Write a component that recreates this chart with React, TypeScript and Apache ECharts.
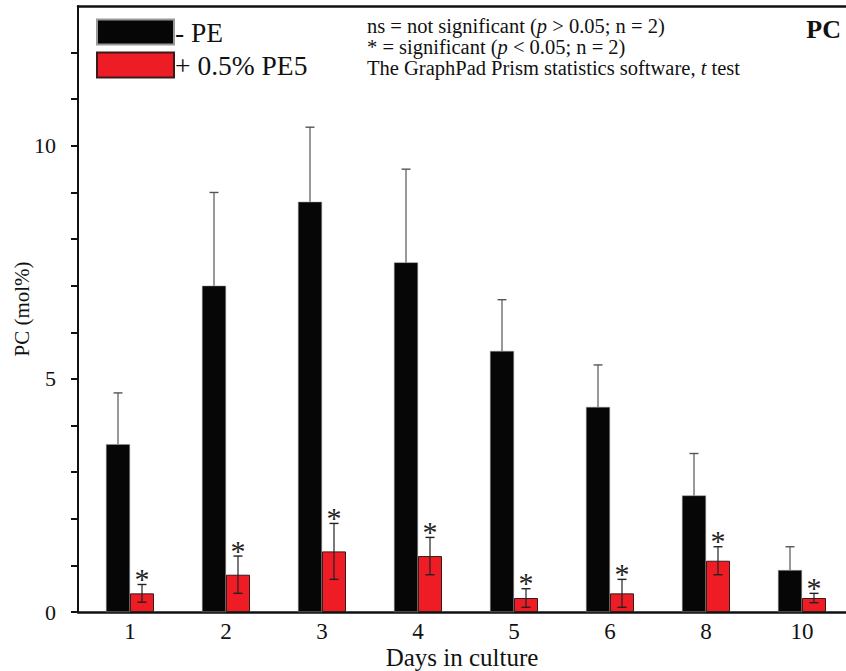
import React, { useEffect, useRef } from 'react';
import * as echarts from 'echarts';

const days = ['1', '2', '3', '4', '5', '6', '8', '10'];
const controlMean = [3.6, 7.0, 8.8, 7.5, 5.6, 4.4, 2.5, 0.9];
const controlErr = [1.1, 2.0, 1.6, 2.0, 1.1, 0.9, 0.9, 0.5];
const treatedMean = [0.4, 0.8, 1.3, 1.2, 0.3, 0.4, 1.1, 0.3];
const treatedErr = [0.19, 0.4, 0.6, 0.4, 0.2, 0.3, 0.3, 0.1];
const significant = [true, true, true, true, true, true, true, true];
const yLabelValues = [0, 5, 10];
const yTickValues = [0, 1, 2, 3, 4, 5, 6, 7, 8, 9, 10, 11, 12];
const seriesNames = ['- PE', '+ 0.5% PE5'];

const SERIF = 'Liberation Serif';
const BAR_W = 24;

export default function App() {
  const ref = useRef<HTMLDivElement>(null);

  useEffect(() => {
    const chart = echarts.init(ref.current!, null, { renderer: 'svg' });
    const idx = days.map((_, i) => i);

    const option: any = {
      animation: false,
      backgroundColor: '#ffffff',
      textStyle: { fontFamily: SERIF, color: '#111' },
      grid: { left: 78, right: 0, top: 6, bottom: 59, containLabel: false, outerBoundsMode: 'none' },
      legend: {
        data: seriesNames,
        orient: 'vertical',
        left: 96,
        top: 18,
        padding: 0,
        itemWidth: 77,
        itemHeight: 25,
        itemGap: 5,
        icon: 'rect',
        textStyle: { fontFamily: SERIF, fontSize: 27.5, color: '#111', padding: [0, 0, 0, -4] },
      },
      xAxis: [
        {
          type: 'value',
          min: -52 / 96,
          max: 7 + 44 / 96,
          position: 'bottom',
          splitLine: { show: false },
          axisTick: { show: false },
          axisLine: { show: true, lineStyle: { color: '#111', width: 2.5 } },
          axisLabel: {
            customValues: idx,
            formatter: (v: number) => days[Math.round(v)] ?? '',
            fontFamily: SERIF,
            fontSize: 23,
            lineHeight: 22,
            color: '#111',
            margin: 8,
          },
          name: 'Days in culture',
          nameLocation: 'middle',
          nameGap: 33,
          nameMoveOverlap: false,
          nameTextStyle: { fontFamily: SERIF, fontSize: 25, lineHeight: 24, color: '#111' },
        },
        {
          type: 'value',
          min: 0,
          max: 1,
          position: 'top',
          splitLine: { show: false },
          axisTick: { show: false },
          axisLabel: { show: false },
          axisLine: { show: true, onZero: false, lineStyle: { color: '#111', width: 2.5 } },
        },
      ],
      yAxis: {
        type: 'value',
        min: 0,
        max: 13,
        splitLine: { show: false },
        axisLine: { show: true, onZero: false, lineStyle: { color: '#111', width: 2 } },
        axisTick: {
          show: true,
          customValues: yTickValues,
          length: 7,
          inside: false,
          lineStyle: { color: '#111', width: 2 },
        },
        axisLabel: {
          customValues: yLabelValues,
          fontFamily: SERIF,
          fontSize: 22,
          color: '#111',
          margin: 22,
        },
        name: 'PC (mol%)',
        nameLocation: 'middle',
        nameGap: 46,
        nameMoveOverlap: false,
        nameTextStyle: { fontFamily: SERIF, fontSize: 21, color: '#111' },
      },
      series: [
        {
          name: seriesNames[0],
          type: 'bar',
          xAxisIndex: 0,
          barWidth: BAR_W,
          barGap: '0%',
          itemStyle: { color: '#060606', borderColor: '#999', borderWidth: 0.5 },
          data: idx.map((i) => [i, controlMean[i]]),
        },
        {
          name: seriesNames[1],
          type: 'bar',
          xAxisIndex: 0,
          barWidth: BAR_W,
          barGap: '0%',
          itemStyle: { color: '#ee1c25', borderColor: '#3a1a1a', borderWidth: 1 },
          data: idx.map((i) => [i, treatedMean[i]]),
        },
        {
          type: 'custom',
          xAxisIndex: 0,
          z: 5,
          silent: true,
          data: idx.map((i) => [i, controlMean[i], controlErr[i]]),
          renderItem: (params: any, api: any) => {
            const x = api.value(0);
            const m = api.value(1);
            const e = api.value(2);
            const base = api.coord([x, m]);
            const top = api.coord([x, m + e]);
            const cx = base[0] - BAR_W / 2;
            return {
              type: 'group',
              children: [
                { type: 'line', shape: { x1: cx, y1: base[1], x2: cx, y2: top[1] }, style: { stroke: '#555', lineWidth: 1.2 } },
                { type: 'line', shape: { x1: cx - 4.5, y1: top[1], x2: cx + 4.5, y2: top[1] }, style: { stroke: '#555', lineWidth: 1.4 } },
              ],
            };
          },
        },
        {
          type: 'custom',
          xAxisIndex: 0,
          z: 5,
          silent: true,
          data: idx.map((i) => [i, treatedMean[i], treatedErr[i], significant[i] ? 1 : 0]),
          renderItem: (params: any, api: any) => {
            const x = api.value(0);
            const m = api.value(1);
            const e = api.value(2);
            const sig = api.value(3);
            const top = api.coord([x, m + e]);
            const bot = api.coord([x, Math.max(0, m - e)]);
            const cx = top[0] + BAR_W / 2;
            const children: any[] = [
              { type: 'line', shape: { x1: cx, y1: bot[1], x2: cx, y2: top[1] }, style: { stroke: '#222', lineWidth: 1.2 } },
              { type: 'line', shape: { x1: cx - 4.5, y1: top[1], x2: cx + 4.5, y2: top[1] }, style: { stroke: '#222', lineWidth: 1.4 } },
              { type: 'line', shape: { x1: cx - 4.5, y1: bot[1], x2: cx + 4.5, y2: bot[1] }, style: { stroke: '#222', lineWidth: 1.4 } },
            ];
            if (sig) {
              children.push({
                type: 'text',
                x: cx,
                y: top[1] - 6,
                style: {
                  text: '*',
                  fill: '#222',
                  fontFamily: SERIF,
                  fontSize: 30,
                  align: 'center',
                  verticalAlign: 'middle',
                },
              });
            }
            return { type: 'group', children };
          },
        },
      ],
      graphic: [
        {
          type: 'text',
          left: 367,
          top: 15,
          style: {
            text: 'ns = not significant ({i|p} > 0.05; n = 2)\n* = significant ({i|p} < 0.05; n = 2)\nThe GraphPad Prism statistics software, {i|t} test',
            fontFamily: SERIF,
            fontSize: 20.5,
            lineHeight: 21,
            fill: '#111',
            rich: {
              i: { fontFamily: SERIF, fontSize: 20.5, fontStyle: 'italic', lineHeight: 21, fill: '#111' },
            },
          },
        },
        {
          type: 'text',
          right: 5,
          top: 16,
          style: {
            text: 'PC',
            fontFamily: SERIF,
            fontSize: 26,
            fontWeight: 'bold',
            fill: '#111',
          },
        },
      ],
    };

    chart.setOption(option);
    return () => chart.dispose();
  }, []);

  return (
    <div
      ref={ref}
      style={{ position: 'fixed', left: 0, top: 0, width: 846, height: 671 }}
    />
  );
}
